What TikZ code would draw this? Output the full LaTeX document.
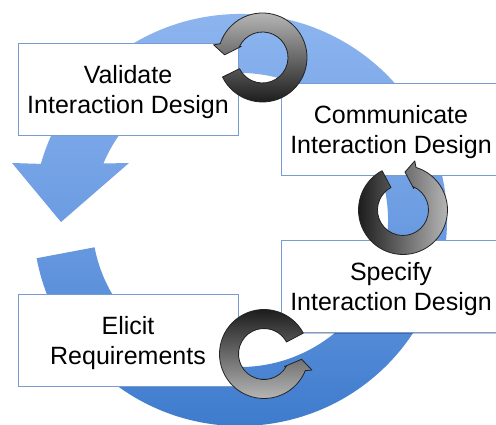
\documentclass[tikz,border=0pt]{standalone}
\usepackage{fontspec}
\setmainfont{Liberation Sans}
\usetikzlibrary{shadows}
\definecolor{ringTop}{RGB}{143,183,240}
\definecolor{ringMid}{RGB}{108,156,226}
\definecolor{ringBot}{RGB}{58,121,203}
\definecolor{boxLine}{RGB}{120,156,208}
\definecolor{grayLight}{RGB}{192,192,192}
\definecolor{grayDark}{RGB}{18,18,18}
\definecolor{arrowLine}{RGB}{35,35,35}
% circular gray arrow: #1,#2 centre; #3 tail angle; #4 head-base angle; #5 shading
\newcommand{\cycarrow}[5]{%
  \pgfmathsetmacro{\cyEnd}{#4+3}%
  \pgfmathsetmacro{\cyOw}{#4+6.5}%
  \pgfmathsetmacro{\cyTip}{#4+17}%
  \pgfmathsetmacro{\cyIw}{#4-6.5}%
  \pgfmathsetmacro{\cyIn}{#4-4}%
  \shadedraw[cyc,#5] ([shift={(#1,#2)}]#3:44.5pt)
    arc[start angle=#3, end angle=\cyEnd, radius=44.5pt]
    -- ([shift={(#1,#2)}]\cyOw:50.5pt)
    -- ([shift={(#1,#2)}]\cyTip:38pt)
    -- ([shift={(#1,#2)}]\cyIw:24pt)
    -- ([shift={(#1,#2)}]\cyIn:25.5pt)
    arc[start angle=\cyIn, end angle=#3, radius=25.5pt] -- cycle;%
}
\begin{document}
\begin{tikzpicture}[x=1pt,y=1pt,
  box/.style={draw=boxLine, fill=white, line width=0.8pt,
    minimum width=220pt, minimum height=92pt, inner sep=0pt,
    align=center, text depth=0pt, text=black,
    font=\fontsize{25}{30}\selectfont,
    drop shadow={shadow xshift=0.6pt, shadow yshift=-1.4pt, fill=black, opacity=0.22}},
  cyc/.style={draw=arrowLine, line width=0.8pt, line join=round}]
\useasboundingbox (0,0) rectangle (496,425);
\clip (0,0) rectangle (496,425);
% big blue cycle arrow
\shade[top color=ringTop, bottom color=ringBot, middle color=ringMid]
  ([shift={(240,205)}]190.7:207pt and 206pt)
  arc[start angle=190.7, end angle=524.2, x radius=207pt, y radius=206pt]
  -- (12,262) -- (61,203) -- (129,262)
  -- ([shift={(240,205)}]157.4:148pt and 147pt)
  arc[start angle=517.4, end angle=190.7, x radius=148pt, y radius=147pt]
  -- cycle;
% boxes
\node[box] (validate) at (128,336) {Validate\\Interaction Design};
\node[box] (communicate) at (391,296) {Communicate\\Interaction Design};
\node[box] (specify) at (391,138.5) {Specify\\Interaction Design};
\node[box] (elicit) at (128,85) {Elicit\\Requirements};
% gray circular arrows
\cycarrow{262.5}{367.5}{-154}{159}{top color=grayLight, bottom color=grayDark}
\cycarrow{403}{215}{118}{430}{left color=grayDark, right color=grayLight}
\cycarrow{264}{71}{28}{335}{top color=grayDark, bottom color=grayLight}
\end{tikzpicture}
\end{document}
